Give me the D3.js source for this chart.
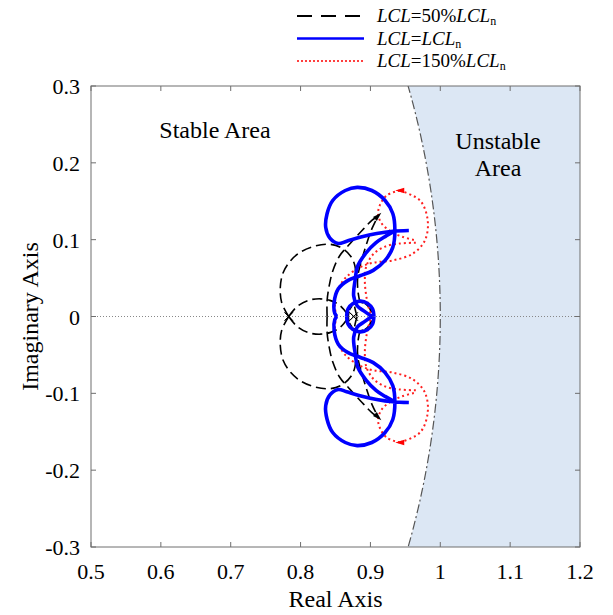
<!DOCTYPE html>
<html>
<head>
<meta charset="utf-8">
<script src="https://cdn.jsdelivr.net/npm/d3@7"></script>
<style>
  body { margin: 0; background: #fff; }
  svg { font-family: "Liberation Serif", "Times New Roman", serif; }
</style>
</head>
<body>
<svg id="chart" width="613" height="615"></svg>
<script>
// tick values
var xTicks = [0.5, 0.6, 0.7, 0.8, 0.9, 1, 1.1, 1.2];
var yTicks = [-0.3, -0.2, -0.1, 0, 0.1, 0.2, 0.3];

// upper-half branches (lower half is the mirror image)
// LCL = LCLn (blue)
var blueBranches = [
	[[0.955,0.112],[0.932,0.111],[0.909,0.108],[0.885,0.103],[0.866,0.098],[0.854,0.095],[0.842,0.102],[0.836,0.116],[0.838,0.134],[0.846,0.151],[0.864,0.164],[0.881,0.168],[0.902,0.164],[0.921,0.151],[0.932,0.134],[0.935,0.112],[0.932,0.090],[0.921,0.073],[0.904,0.060],[0.885,0.053],[0.868,0.047],[0.854,0.036],[0.848,0.018],[0.849,0.004],[0.852,0]],
	[[0.935,0.111],[0.921,0.104],[0.908,0.096],[0.894,0.083],[0.882,0.066],[0.878,0.047],[0.876,0.027],[0.881,0.014],[0.891,0.007],[0.902,0]],
	[[0.866,0],[0.868,0.010],[0.875,0.017],[0.886,0.020],[0.896,0.017],[0.903,0.010],[0.905,0]]
];
// LCL = 50% LCLn (black dashed)
var blackBranches = [
	[[0.783,0],[0.773,0.018],[0.771,0.038],[0.775,0.057],[0.786,0.073],[0.802,0.085],[0.822,0.092],[0.842,0.094],[0.859,0.089],[0.872,0.078],[0.878,0.065],[0.878,0.047],[0.876,0.027],[0.878,0.010],[0.881,0]],
	[[0.783,0],[0.795,0.013],[0.811,0.021],[0.828,0.023],[0.842,0.021],[0.854,0.016],[0.862,0.009],[0.869,0]],
	[[0.838,0],[0.838,0.021],[0.841,0.040],[0.846,0.059],[0.856,0.079],[0.871,0.095],[0.888,0.112],[0.902,0.125],[0.911,0.131]],
	[[0.885,0.018],[0.882,0.034],[0.882,0.053],[0.888,0.075],[0.895,0.096],[0.902,0.114],[0.911,0.131]]
];
var blackRing = [[0.868,0],[0.870,0.009],[0.876,0.016],[0.885,0.019],[0.894,0.016],[0.900,0.009],[0.902,0]];
// LCL = 150% LCLn (red dotted)
var redBranches = [
	[[0.851,0],[0.849,0.021],[0.854,0.036],[0.865,0.051],[0.885,0.064],[0.904,0.070],[0.932,0.073],[0.961,0.082],[0.978,0.099],[0.982,0.125],[0.971,0.151],[0.942,0.164]],
	[[0.942,0.164],[0.924,0.158],[0.914,0.146],[0.911,0.133],[0.917,0.120],[0.929,0.111],[0.945,0.104],[0.965,0.099]],
	[[0.965,0.096],[0.942,0.095],[0.921,0.091],[0.904,0.081],[0.894,0.065],[0.892,0.047],[0.894,0.027],[0.898,0.010],[0.902,0]]
];
var blackPoles = [[0.783,0],[0.876,0]];
var blackArrow = [0.911,0.131];
var redArrow = [0.942,0.164];
var blueArrow = [0.881,0.168];

var margin = {top: 86, right: 33, bottom: 68, left: 91},
	width = 613 - margin.left - margin.right,
	height = 615 - margin.top - margin.bottom;

var x = d3.scaleLinear().domain([0.5, 1.2]).range([0, width]);
var y = d3.scaleLinear().domain([-0.3, 0.3]).range([height, 0]);

var svg = d3.select("#chart");
var g = svg.append("g")
	.attr("transform", "translate(" + margin.left + "," + margin.top + ")");

g.append("clipPath").attr("id", "clip")
	.append("rect").attr("width", width).attr("height", height);

// unstable region: outside the unit circle
var circ = d3.range(-0.32, 0.3201, 0.005).map(function(v) { return [Math.sqrt(1 - v * v), v]; });
var line = d3.line().x(function(d) { return x(d[0]); }).y(function(d) { return y(d[1]); });
var fillPts = circ.concat([[1.3, 0.32], [1.3, -0.32]]);
g.append("path")
	.attr("clip-path", "url(#clip)")
	.attr("d", line(fillPts) + "Z")
	.attr("fill", "#dce7f4");
g.append("path")
	.attr("clip-path", "url(#clip)")
	.attr("d", line(circ.map(function(d) { return [d[0] - 0.003, d[1]]; })))
	.attr("fill", "none").attr("stroke", "#fff").attr("stroke-width", 2);
g.append("path")
	.attr("clip-path", "url(#clip)")
	.attr("d", line(circ))
	.attr("fill", "none").attr("stroke", "#555").attr("stroke-width", 1.2)
	.attr("stroke-dasharray", "9,3,2,3");

// zero line
g.append("line")
	.attr("x1", 0).attr("x2", width).attr("y1", y(0)).attr("y2", y(0))
	.attr("stroke", "#888").attr("stroke-width", 1).attr("stroke-dasharray", "1,2");

var curve = d3.line().curve(d3.curveCatmullRom.alpha(0.5))
	.x(function(d) { return x(d[0]); }).y(function(d) { return y(d[1]); });

function mirror(b) { return b.map(function(d) { return [d[0], -d[1]]; }); }

function drawSet(branches, stroke, sw, dash) {
	branches.forEach(function(b) {
		[b, mirror(b)].forEach(function(p) {
			g.append("path")
				.attr("d", curve(p))
				.attr("fill", "none")
				.attr("stroke", stroke)
				.attr("stroke-width", sw)
				.attr("stroke-dasharray", dash)
				.attr("stroke-linecap", "butt");
		});
	});
}

drawSet(blackBranches, "#000", 1.6, "10,5");
drawSet([blackRing], "#000", 2, "5,1.5");
drawSet(redBranches, "#ff2020", 2, "2,3");
drawSet(blueBranches, "#0000ff", 3.6, null);

// pole markers
blackPoles.forEach(function(p) {
	[p, [p[0], -p[1]]].forEach(function(q) {
		var cx = x(q[0]), cy = y(q[1]);
		g.append("path")
			.attr("d", "M" + (cx - 4) + "," + (cy - 4) + "L" + (cx + 4) + "," + (cy + 4) +
				"M" + (cx - 4) + "," + (cy + 4) + "L" + (cx + 4) + "," + (cy - 4))
			.attr("stroke", "#000").attr("stroke-width", 1);
	});
});

// arrow markers
function arrow(p, angle, color, size) {
	[[p[0], p[1], angle], [p[0], -p[1], -angle]].forEach(function(q) {
		g.append("path")
			.attr("d", "M" + size + ",0L" + (-size) + "," + (-size * 0.6) + "L" + (-size) + "," + (size * 0.6) + "Z")
			.attr("transform", "translate(" + x(q[0]) + "," + y(q[1]) + ") rotate(" + q[2] + ")")
			.attr("fill", color);
	});
}
arrow(blackArrow, -45, "#000", 4.5);
arrow(redArrow, 180, "#ff0000", 4.5);
arrow(blueArrow, 0, "#0000ff", 2.5);

// axes box
g.append("rect").attr("width", width).attr("height", height)
	.attr("fill", "none").attr("stroke", "#6e6e6e").attr("stroke-width", 1);

var ax = "#6e6e6e";
xTicks.forEach(function(t) {
	g.append("line").attr("x1", x(t)).attr("x2", x(t)).attr("y1", height).attr("y2", height - 5).attr("stroke", ax);
	g.append("line").attr("x1", x(t)).attr("x2", x(t)).attr("y1", 0).attr("y2", 5).attr("stroke", ax);
	g.append("text").attr("x", x(t)).attr("y", height + 32)
		.attr("text-anchor", "middle").attr("font-size", 22).attr("fill", "#000")
		.text(t);
});
yTicks.forEach(function(t) {
	g.append("line").attr("x1", 0).attr("x2", 5).attr("y1", y(t)).attr("y2", y(t)).attr("stroke", ax);
	g.append("line").attr("x1", width).attr("x2", width - 5).attr("y1", y(t)).attr("y2", y(t)).attr("stroke", ax);
	g.append("text").attr("x", -11).attr("y", y(t) + 8)
		.attr("text-anchor", "end").attr("font-size", 22).attr("fill", "#000")
		.text(t);
});

g.append("text").attr("x", width / 2).attr("y", height + 60)
	.attr("text-anchor", "middle").attr("font-size", 24).text("Real Axis");
g.append("text")
	.attr("transform", "translate(" + (-53) + "," + (height / 2) + ") rotate(-90)")
	.attr("text-anchor", "middle").attr("font-size", 24).text("Imaginary Axis");

// region labels
g.append("text").attr("x", 124).attr("y", 52).attr("text-anchor", "middle")
	.attr("font-size", 24).text("Stable Area");
g.append("text").attr("x", 407).attr("y", 63).attr("text-anchor", "middle")
	.attr("font-size", 24).text("Unstable");
g.append("text").attr("x", 407).attr("y", 90).attr("text-anchor", "middle")
	.attr("font-size", 24).text("Area");

// legend
var legendRows = [
	{stroke: "#000", sw: 2, dash: "15,9", pct: "50%"},
	{stroke: "#0000ff", sw: 2.5, dash: null, pct: ""},
	{stroke: "#ff0000", sw: 1.6, dash: "2,2", pct: "150%"}
];
legendRows.forEach(function(r, i) {
	var ly = 16 + i * 22.5;
	svg.append("line").attr("x1", 297).attr("x2", 364).attr("y1", ly).attr("y2", ly)
		.attr("stroke", r.stroke).attr("stroke-width", r.sw).attr("stroke-dasharray", r.dash);
	var t = svg.append("text").attr("x", 377).attr("y", ly + 6).attr("font-size", 19);
	t.append("tspan").attr("font-style", "italic").text("LCL");
	t.append("tspan").text("=" + r.pct);
	t.append("tspan").attr("font-style", "italic").text("LCL");
	t.append("tspan").attr("font-size", 12).attr("dy", 3).text("n");
});
</script>
</body>
</html>
